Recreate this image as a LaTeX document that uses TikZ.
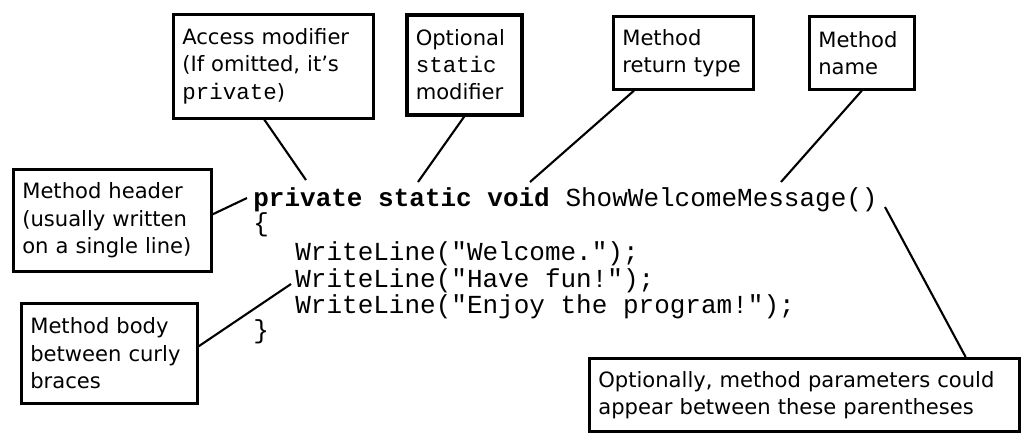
\documentclass[tikz,border=0pt]{standalone}
\usepackage{fontspec}
\setmainfont{DejaVu Sans}
\newfontfamily\codefont{Liberation Mono}
\usetikzlibrary{calc}

\begin{document}
\begin{tikzpicture}[x=0.2mm, y=-0.2mm,
  note/.style={draw, line width=1.5pt, anchor=north west, align=left, inner xsep=0.18cm, font=\fontsize{12}{15.5}\selectfont},
  code/.style={anchor=base west, inner sep=0pt, font=\codefont\fontsize{14.8}{15}\selectfont},
  lead/.style={line width=1.2pt}]
  \useasboundingbox (0,0) rectangle (1030,442);
  % callout boxes
  \node[note, minimum width=4cm, minimum height=2.08cm, text width=3.64cm] (access) at (172,13) {Access modifier\\(If omitted, it's\\{\codefont\fontsize{12.8}{15.5}\selectfont private})};
  \node[note, line width=2pt, minimum width=2.3cm, minimum height=2cm, text width=1.94cm] (static) at (405,13) {Optional\\{\codefont\fontsize{12.8}{15.5}\selectfont static}\\modifier};
  \node[note, minimum width=2.8cm, minimum height=1.46cm, text width=2.44cm] (rettype) at (612,15) {Method\\return type};
  \node[note, minimum width=2.1cm, minimum height=1.46cm, text width=1.74cm] (mname) at (808,15) {Method\\name};
  \node[note, minimum width=3.96cm, minimum height=2.04cm, text width=3.6cm] (header) at (12,168) {Method header\\(usually written\\on a single line)};
  \node[note, minimum width=3.52cm, minimum height=2cm, text width=3.16cm] (body) at (20,302) {Method body\\between curly\\braces};
  \node[note, minimum width=8.6cm, minimum height=1.46cm, text width=8.24cm] (params) at (588,357) {Optionally, method parameters could\\appear between these parentheses};
  % the method
  \node[code] (sig) at (253,206) {\textbf{private static void} ShowWelcomeMessage()};
  \node[code] (lbr) at (253,231) {\{};
  \node[code] (wl1) at (295,260) {WriteLine("Welcome.");};
  \node[code] (wl2) at (295,287) {WriteLine("Have fun!");};
  \node[code] (wl3) at (295,313) {WriteLine("Enjoy the program!");};
  \node[code] (rbr) at (253,338) {\}};
  % where the leaders end
  \coordinate (atPriv) at (306,180);
  \coordinate (atStatic) at (418,182);
  \coordinate (atVoid) at (530,182);
  \coordinate (atName) at (781,182);
  \coordinate (atHeader) at (247,198);
  \coordinate (atBody) at (291,284);
  \coordinate (atParens) at (885,207);
  \draw[lead] ($(access.south)+(-9,0)$) -- (atPriv);
  \draw[lead] (static.south) -- (atStatic);
  \draw[lead] ($(rettype.south west)+(22,0)$) -- (atVoid);
  \draw[lead] (mname.south) -- (atName);
  \draw[lead] ($(header.east)+(0,-6)$) -- (atHeader);
  \draw[lead] ($(body.east)+(0,-7)$) -- (atBody);
  \draw[lead] ($(params.north east)+(-55,0)$) -- (atParens);
\end{tikzpicture}
\end{document}
